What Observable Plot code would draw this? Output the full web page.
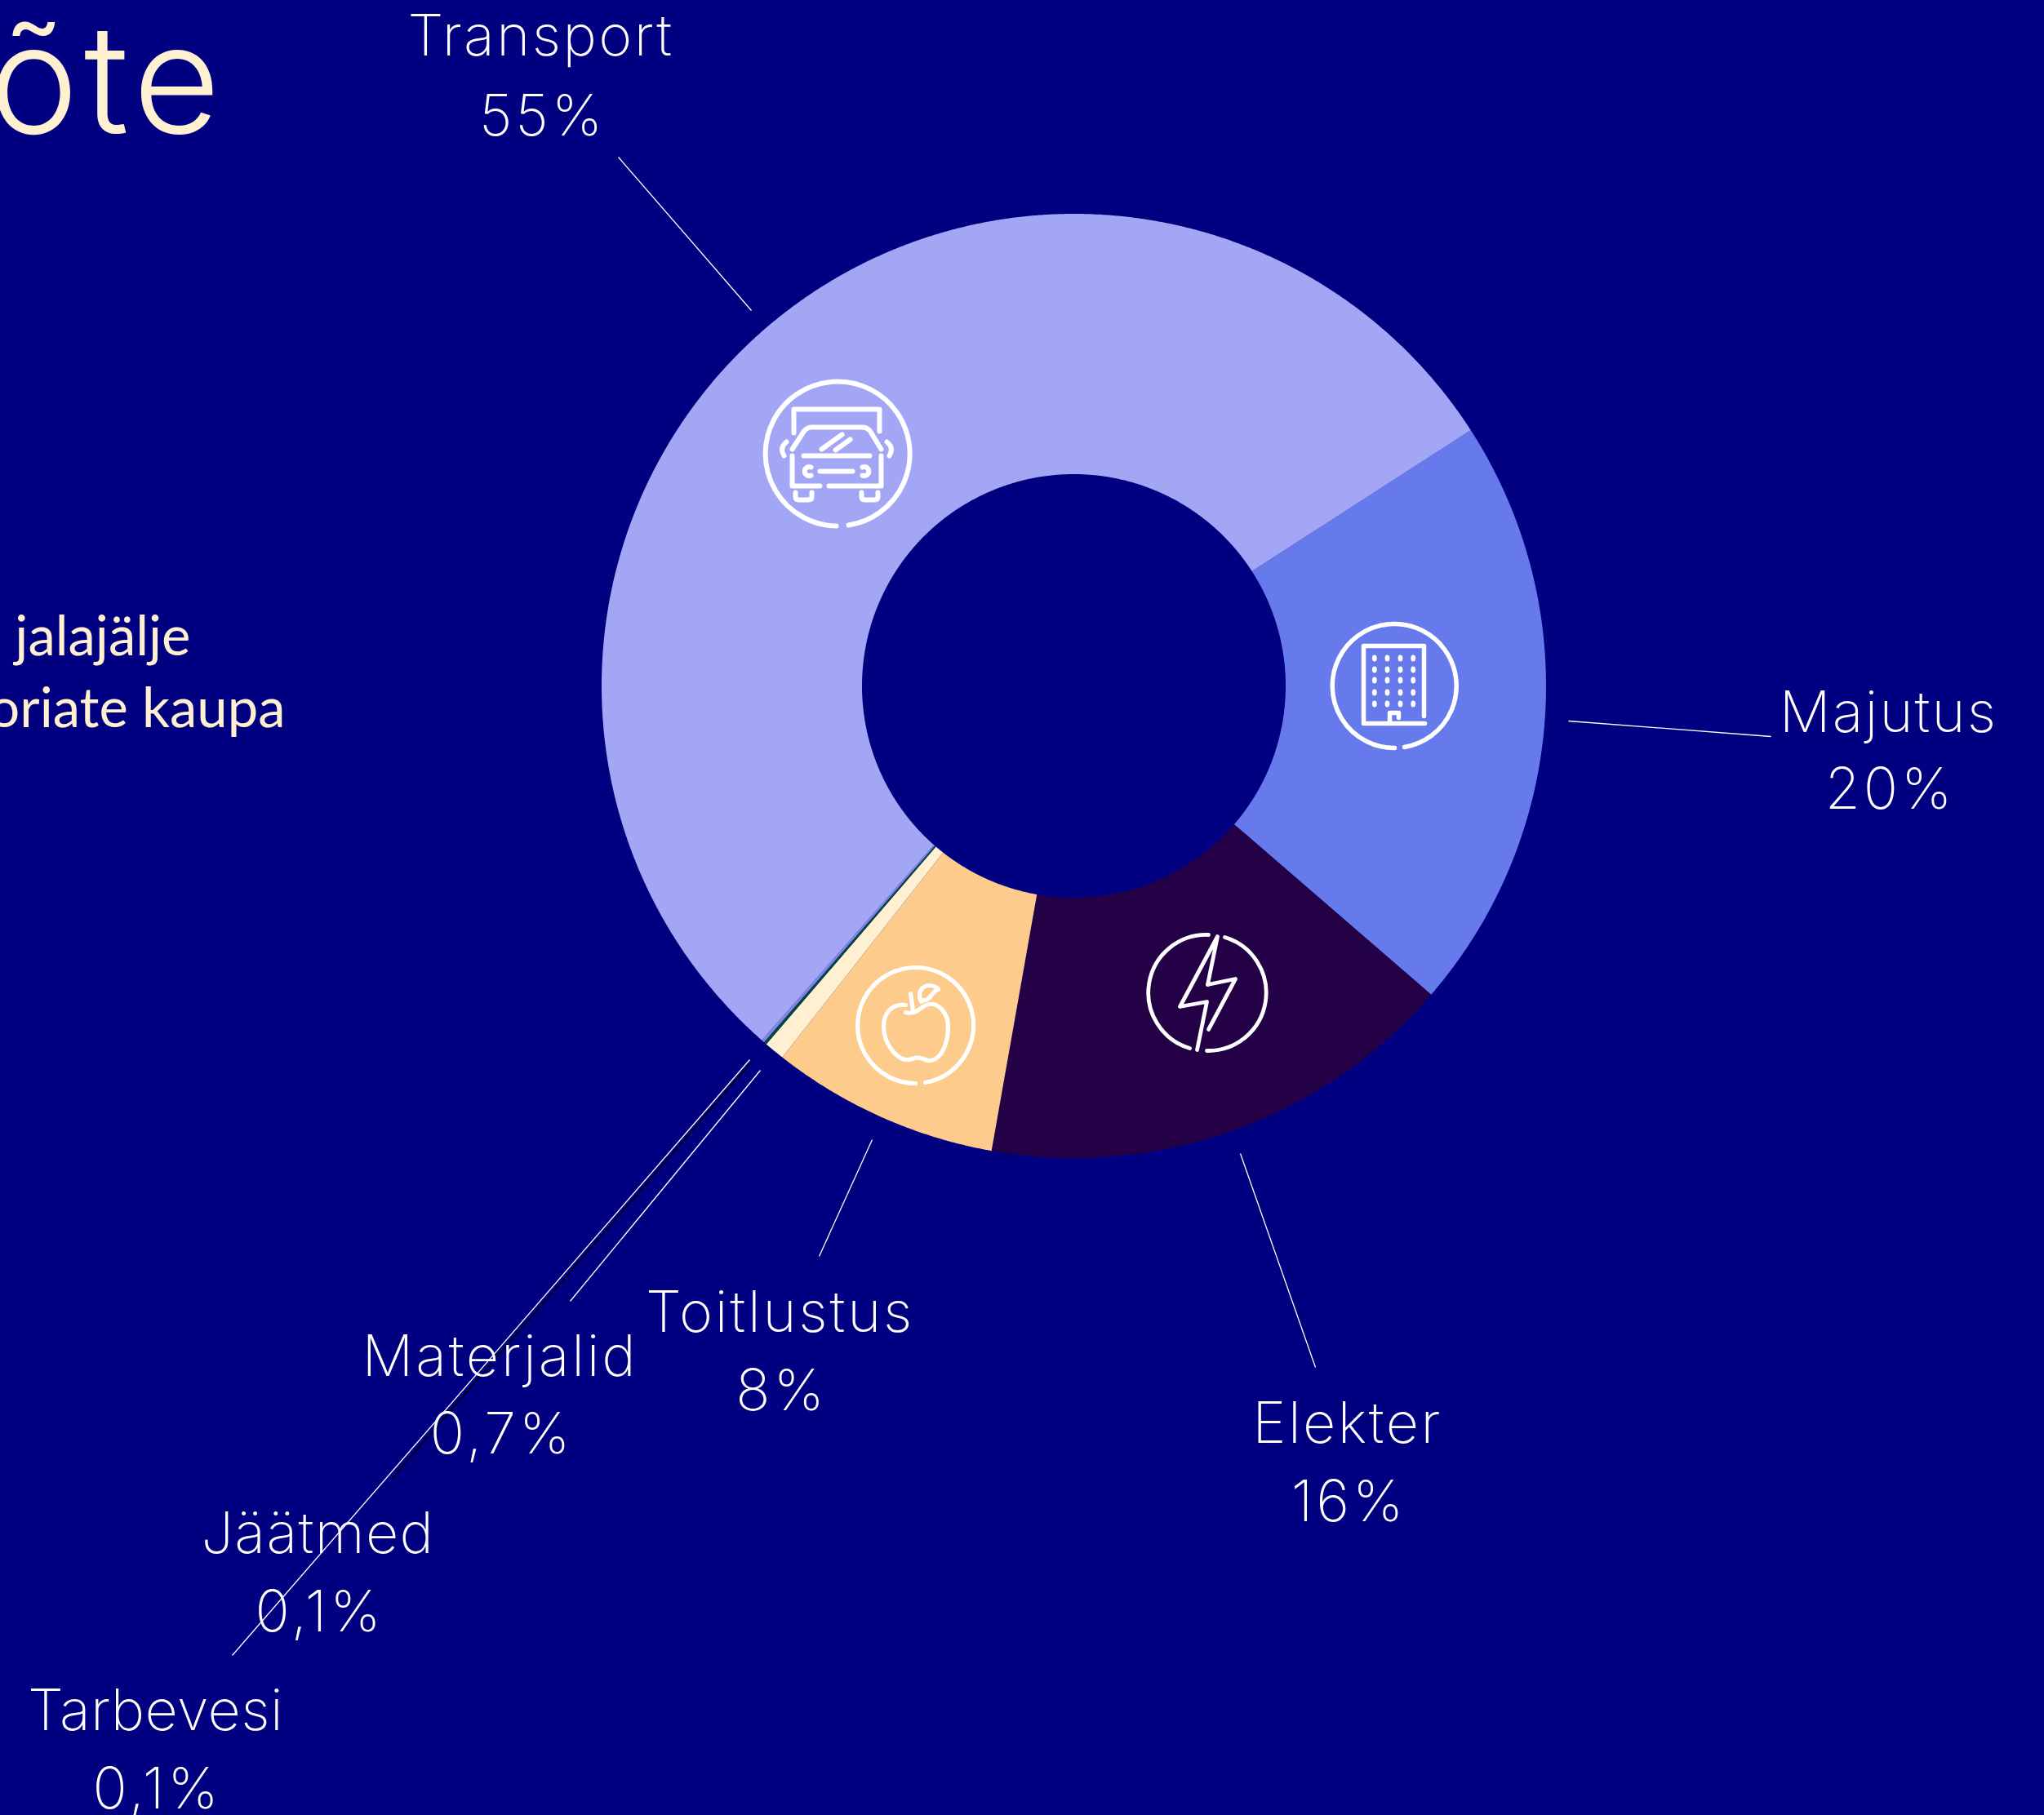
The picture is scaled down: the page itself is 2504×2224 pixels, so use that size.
<!DOCTYPE html>
<html lang="et">
<head>
<meta charset="utf-8">
<title>Jalajälg kategooriate kaupa</title>
<script src="https://cdn.jsdelivr.net/npm/d3@7"></script>
<script src="https://cdn.jsdelivr.net/npm/@observablehq/plot@0.6"></script>
<style>
html,body{margin:0;padding:0;background:#000080;overflow:hidden}
svg{display:block}
</style>
</head>
<body>
<div id="chart"></div>
<script>
// ---- data ----
const categories = ["Majutus","Elekter","Toitlustus","Materjalid","Jäätmed","Tarbevesi","Transport"];
const shares     = [20.45, 16.45, 7.8, 0.7, 0.1, 0.1, 54.4];
const percentLabels = ["20%","16%","8%","0,7%","0,1%","0,1%","55%"];

// ---- styles ----
const sliceColors = ["#667AEB","#240046","#FDCB8C","#FFF0D2","#00473E","#8285E6","#A3A6F5"];
const NAVY="#000080", CREAM="#FFF0D2";
const labelFont="Inter", labelSize=70, labelWeight=200;
const nameSpacing = {Majutus:"0.03em",Elekter:"0.035em",Toitlustus:"0.04em",Materjalid:"0.04em","Jäätmed":"0.02em",Tarbevesi:"0.006em",Transport:"0.035em"};

// ---- layout (in the plot's x / y scale units) ----
const W=2504,H=2224, cx=1315, cy=840, outer=578.5, inner=259.5, startDeg=57.2;
const labelAt = {
  Majutus:[2313,896,990], Elekter:[1650,1767,1863], Toitlustus:[955,1631,1727],
  Materjalid:[612,1685,1780], "Jäätmed":[389,1902,1998], Tarbevesi:[190,2119,2215], Transport:[662,67,165]
};
const leaderAt = {
  Majutus:[1921,883,2169,902], Elekter:[1519,1413,1611,1675], Toitlustus:[1068,1396,1003,1539],
  Materjalid:[931,1311,698,1594], "Jäätmed":[919,1302,480,1811], Tarbevesi:[918,1298,284,2028], Transport:[920,380,757,192]
};

// ---- slices from the shares ----
const arcs = d3.pie().sort(null).startAngle(startDeg*Math.PI/180).endAngle((startDeg+360)*Math.PI/180)(shares);
const ringPoints = [];
arcs.forEach((a,i)=>{
  const n=Math.max(2,Math.ceil((a.endAngle-a.startAngle)/0.004));
  const ts=d3.range(n+1).map(k=>a.startAngle+(a.endAngle-a.startAngle)*k/n);
  const push=(r,t)=>ringPoints.push({name:categories[i],x:cx+r*Math.sin(t),y:cy-r*Math.cos(t)});
  ts.forEach(t=>push(outer,t));
  ts.slice().reverse().forEach(t=>push(inner,t));
  push(outer,ts[0]);
});

const nameRows = categories.map(c=>({text:c,x:labelAt[c][0],y:labelAt[c][1]}));
const percentRows = categories.map((c,i)=>({text:percentLabels[i],x:labelAt[c][0]+2,y:labelAt[c][2]}));
const leaders = categories.map(c=>({name:c,x1:leaderAt[c][0],y1:leaderAt[c][1],x2:leaderAt[c][2],y2:leaderAt[c][3]}));

// ---- icons ----
const svgIcon=(size,body)=>"data:image/svg+xml;utf8,"+encodeURIComponent(
 `<svg xmlns="http://www.w3.org/2000/svg" viewBox="0 0 ${size} ${size}" width="${size}" height="${size}"><g fill="none" stroke="#fff" stroke-linecap="round" stroke-linejoin="round">${body}</g></svg>`);

const carIcon=svgIcon(240,`<g stroke-width="6">
<path d="M141 203A88.5 88.5 0 1 0 126 204"/>
<path d="M74 90V61H179V88"/>
<path d="M72 110L87 87Q91 83 96 83H158Q163 83 167 87L181 110"/>
<path d="M108 110L133 92M125 111L143 98"/>
<path d="M86 118H167"/>
<path d="M72 118V155H106M117 155H181V118"/>
<path d="M95 132A5.5 5.5 0 1 0 95 142M158 132A5.5 5.5 0 1 1 158 142"/>
<path d="M106 137H146"/>
<path d="M65 101Q56 108 62 118M188 101Q197 108 191 118"/>
<path d="M76 163V168Q76 172 80 172H92Q96 172 96 168V163M157 163V168Q157 172 161 172H173Q177 172 177 168V163"/>
</g>`);

const windows=[85.3,101,117,132.7].flatMap(x=>[77,91,104,119,133].map(y=>`<ellipse cx="${x}" cy="${y}" rx="2.9" ry="3.9" fill="#fff" stroke="none"/>`)).join("");
const buildingIcon=svgIcon(240,`<g stroke-width="5.5">
<path d="M122 186A76 76 0 1 0 110 187"/>
<path d="M146 148V62H72V157H147"/>
<path d="M104 157V144H115V150"/>
</g>${windows}`);

const boltIcon=svgIcon(200,`<g stroke-width="4.8">
<path d="M100 25A71 71 0 0 0 77 164"/>
<path d="M120 28A71 71 0 0 1 98 167"/>
<path d="M99 86L133 79L100 141"/>
<path d="M99 86L111 27L65 113L98 107L86 166"/>
</g>`);

const appleIcon=svgIcon(200,`<g stroke-width="5.2">
<path d="M103 166A71 71 0 1 0 91 167"/>
<path d="M79 71C62 69 52 81 52 97C52 113 60 126 70 134C76 139 83 139 90 136C96 134 100 137 106 139C112 140 118 136 122 131C128 122 131 110 131 97C131 81 119 68 108 70C100 71 96 78 88 80C84 81 81 81 79 80"/>
<path d="M85 57L88 78"/>
<path d="M98 67C92 55 100 47 108 47C112 47 117 49 119 52C114 53 112 58 108 62C105 65 102 66 99 65"/>
</g>`);

const icons=[
 {src:carIcon,x:1018,y:560,size:240},
 {src:buildingIcon,x:1718,y:849,size:240},
 {src:boltIcon,x:1480,y:1220,size:200},
 {src:appleIcon,x:1130,y:1260,size:200}
];

// ---- plot ----
const textStyle={x:"x",y:"y",text:"text",fill:"#fff",fontSize:labelSize,fontWeight:labelWeight,fontFamily:labelFont,textAnchor:"middle",lineAnchor:"bottom"};
const chart = Plot.plot({
  width:W,height:H,margin:0,
  style:{background:NAVY,fontFamily:labelFont},
  x:{domain:[0,W],range:[0,W],axis:null},
  y:{domain:[0,H],range:[0,H],axis:null},
  color:{domain:categories,range:sliceColors},
  marks:[
    Plot.line(ringPoints,{x:"x",y:"y",z:"name",fill:"name",stroke:"none",curve:"linear"}),
    Plot.link(leaders.filter(d=>d.name!=="Jäätmed"),{x1:"x1",y1:"y1",x2:"x2",y2:"y2",stroke:"#fff",strokeWidth:1.3}),
    Plot.link(leaders.filter(d=>d.name==="Jäätmed"),{x1:"x1",y1:"y1",x2:"x2",y2:"y2",stroke:"#000",strokeWidth:1.3}),
    ...icons.map(d=>Plot.image([d],{x:"x",y:"y",src:"src",width:d.size,height:d.size})),
    Plot.text(nameRows,textStyle),
    Plot.text(percentRows,textStyle),
    Plot.text([{t:"õte",x:276,y:162}],{x:"x",y:"y",text:"t",fill:CREAM,fontSize:185,fontWeight:300,fontFamily:"Inter",textAnchor:"end",lineAnchor:"bottom"}),
    Plot.text([{t:"u jalajälje",x:233,y:802},{t:"oriate kaupa",x:349,y:890}],{x:"x",y:"y",text:"t",fill:CREAM,fontSize:67,fontWeight:400,fontFamily:"Lato",textAnchor:"end",lineAnchor:"bottom"})
  ]
});
const textGroups=chart.querySelectorAll('g[aria-label="text"]');
textGroups[0].querySelectorAll("text").forEach(el=>{ el.style.letterSpacing=nameSpacing[el.textContent]; });
textGroups[1].style.letterSpacing="0.055em";
textGroups[2].style.letterSpacing="0.035em";
document.getElementById("chart").append(chart);
</script>
</body>
</html>
